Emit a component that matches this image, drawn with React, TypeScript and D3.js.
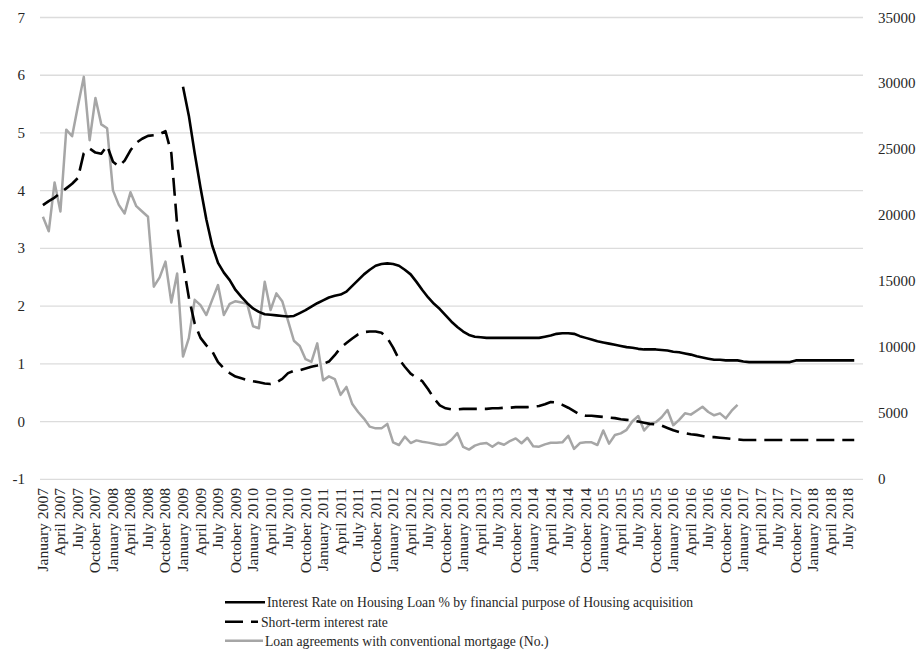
import React from "react";
import * as d3 from "d3";

// ---- Data ----
const startMonth = new Date(2007, 0, 1);
const monthCount = 141; // Jan 2007 .. Sep 2018
const categories: string[] = d3
  .timeMonths(startMonth, new Date(2007, monthCount, 1))
  .map((d) => d3.timeFormat("%B %Y")(d));

const leftTicks = [-1, 0, 1, 2, 3, 4, 5, 6, 7];
const rightTicks = [0, 5000, 10000, 15000, 20000, 25000, 30000, 35000];

// Interest Rate on Housing Loan %, starts January 2009 (index 24)
const housingRateStart = 24;
const housingRate = [
  5.8, 5.3, 4.65, 4.05, 3.5, 3.05, 2.75, 2.58, 2.45, 2.28, 2.16, 2.05, 1.96, 1.9, 1.86, 1.85,
  1.84, 1.83, 1.82, 1.83, 1.88, 1.93, 1.99, 2.05, 2.1, 2.15, 2.18, 2.2, 2.25, 2.35, 2.45, 2.55,
  2.63, 2.7, 2.73, 2.74, 2.73, 2.7, 2.63, 2.55, 2.42, 2.28, 2.15, 2.04, 1.95, 1.84, 1.73, 1.64,
  1.56, 1.5, 1.47, 1.46, 1.45, 1.45, 1.45, 1.45, 1.45, 1.45, 1.45, 1.45, 1.45, 1.45, 1.47, 1.49,
  1.52, 1.53, 1.53, 1.52, 1.48, 1.45, 1.42, 1.39, 1.37, 1.35, 1.33, 1.31, 1.29, 1.28, 1.26, 1.25,
  1.25, 1.25, 1.24, 1.23, 1.21, 1.2, 1.18, 1.16, 1.13, 1.11, 1.09, 1.07, 1.07, 1.06, 1.06, 1.06,
  1.04, 1.03, 1.03, 1.03, 1.03, 1.03, 1.03, 1.03, 1.03, 1.06, 1.06, 1.06, 1.06, 1.06, 1.06, 1.06,
  1.06, 1.06, 1.06, 1.06,
];

// Short-term interest rate, starts January 2007
const shortRateStart = 0;
const shortRate = [
  3.75, 3.82, 3.88, 3.96, 4.04, 4.12, 4.22, 4.65, 4.73, 4.66, 4.64, 4.78, 4.5, 4.42, 4.52, 4.7,
  4.83, 4.9, 4.95, 4.96, 4.98, 5.03, 4.65, 3.4, 2.75, 2.15, 1.7, 1.45, 1.32, 1.22, 1.03, 0.92,
  0.84, 0.78, 0.75, 0.72, 0.7, 0.68, 0.66, 0.65, 0.68, 0.74, 0.84, 0.88, 0.89, 0.92, 0.95, 0.97,
  1.0, 1.04, 1.15, 1.28, 1.36, 1.44, 1.51, 1.55, 1.56, 1.56, 1.54, 1.45, 1.28, 1.08, 0.95, 0.83,
  0.76, 0.7, 0.56, 0.4, 0.28, 0.23, 0.21, 0.21, 0.22, 0.22, 0.22, 0.22, 0.22, 0.23, 0.23, 0.24,
  0.24, 0.25, 0.25, 0.25, 0.26, 0.27, 0.3, 0.34, 0.33, 0.29, 0.24, 0.18, 0.12, 0.1, 0.1, 0.09,
  0.08, 0.07, 0.06, 0.04, 0.03, 0.02, 0.0, -0.02, -0.04, -0.05, -0.07, -0.11, -0.15, -0.18, -0.2, -0.22,
  -0.23, -0.25, -0.27, -0.27, -0.28, -0.29, -0.3, -0.31, -0.32, -0.32, -0.32, -0.32, -0.32, -0.32, -0.32, -0.32,
  -0.32, -0.32, -0.32, -0.32, -0.32, -0.32, -0.32, -0.32, -0.32, -0.32, -0.32, -0.32,
];

// Loan agreements with conventional mortgage (No.), starts January 2007 (right axis)
const loansStart = 0;
const loans = [
  19900, 18800, 22500, 20300, 26500, 26000, 28300, 30500, 25700, 28900, 26900, 26600, 21900, 20800, 20150, 21750,
  20700, 20300, 19900, 14600, 15300, 16500, 13400, 15600, 9300, 10700, 13600, 13200, 12450, 13600, 14720, 12450,
  13300, 13500, 13400, 13300, 11600, 11450, 14970, 12830, 14090, 13500, 12000, 10500, 10100, 9100, 8900, 10300,
  7500, 7800, 7600, 6400, 7000, 5700, 5100, 4600, 3990, 3860, 3860, 4200, 2800, 2600, 3230, 2750,
  2950, 2850, 2780, 2700, 2600, 2650, 3000, 3500, 2450, 2250, 2550, 2700, 2750, 2470, 2770, 2620,
  2900, 3100, 2730, 3150, 2500, 2470, 2650, 2770, 2770, 2800, 3300, 2300, 2750, 2800, 2800, 2600,
  3700, 2700, 3360, 3480, 3750, 4400, 4800, 3700, 4200, 4330, 4700, 5250, 4100, 4500, 5000, 4900,
  5200, 5500, 5100, 4850, 5000, 4620, 5200, 5650,
];

const legendLabels = [
  "Interest Rate on Housing Loan % by financial purpose of Housing acquisition",
  "Short-term interest rate",
  "Loan agreements with conventional mortgage (No.)",
];

// ---- Layout ----
const W = 920;
const H = 661;
const plotLeft = 40;
const plotRight = 863;
const plotTop = 17.5;
const plotBottom = 479.3;
const FONT = "'Liberation Serif', 'Times New Roman', serif";
const TEXT = "#262626";

export default function App() {
  const x = d3
    .scaleBand<number>()
    .domain(d3.range(categories.length))
    .range([plotLeft, plotRight]);
  const cx = (i: number) => (x(i) as number) + x.bandwidth() / 2;
  const yL = d3.scaleLinear().domain([-1, 7]).range([plotBottom, plotTop]);
  const yR = d3.scaleLinear().domain([0, 35000]).range([plotBottom, plotTop]);

  const mkPts = (arr: number[], start: number) => arr.map((v, k) => [start + k, v] as [number, number]);
  const lineL = d3
    .line<[number, number]>()
    .x((d) => cx(d[0]))
    .y((d) => yL(d[1]));
  const lineR = d3
    .line<[number, number]>()
    .x((d) => cx(d[0]))
    .y((d) => yR(d[1]));

  const labelIdx = d3.range(0, categories.length, 3);
  const legendRows = [
    { y: 602.3, lineEnd: 265, textX: 267 },
    { y: 621.7, lineEnd: 258, textX: 261 },
    { y: 640.7, lineEnd: 263, textX: 265 },
  ];

  return (
    <svg
      width={W}
      height={H}
      viewBox={`0 0 ${W} ${H}`}
      style={{ position: "absolute", left: 0, top: 0, background: "#fff" }}
      fontFamily={FONT}
    >
      <rect x={0} y={0} width={W} height={H} fill="#fff" />
      {/* gridlines */}
      {leftTicks.map((t) => (
        <line key={"g" + t} x1={plotLeft} x2={plotRight} y1={yL(t)} y2={yL(t)} stroke="#dcdcdc" strokeWidth={1.3} />
      ))}
      {/* left tick labels */}
      {leftTicks.map((t) => (
        <text key={"l" + t} x={25} y={yL(t) + 5} textAnchor="end" fontSize={15} fill={TEXT}>
          {t}
        </text>
      ))}
      {/* right tick labels */}
      {rightTicks.map((t) => (
        <text key={"r" + t} x={878} y={yR(t) + 5} textAnchor="start" fontSize={15} fill={TEXT}>
          {t}
        </text>
      ))}
      {/* x labels */}
      {labelIdx.map((i) => (
        <text
          key={"x" + i}
          transform={`translate(${cx(i) + 5},488) scale(1,1.04) rotate(-90)`}
          textAnchor="end"
          fontSize={15}
          fill={TEXT}
        >
          {categories[i]}
        </text>
      ))}
      {/* series */}
      <path
        d={lineR(mkPts(loans, loansStart)) || ""}
        fill="none"
        stroke="#a6a6a6"
        strokeWidth={2.5}
        strokeLinejoin="round"
      />
      <path
        d={lineL(mkPts(shortRate, shortRateStart)) || ""}
        fill="none"
        stroke="#000"
        strokeWidth={2.6}
        strokeDasharray="18,8"
        strokeLinejoin="round"
      />
      <path
        d={lineL(mkPts(housingRate, housingRateStart)) || ""}
        fill="none"
        stroke="#000"
        strokeWidth={2.6}
        strokeLinejoin="round"
      />
      {/* legend */}
      {legendRows.map((r, k) => (
        <g key={"lg" + k}>
          <line
            x1={225}
            x2={r.lineEnd}
            y1={r.y}
            y2={r.y}
            stroke={k === 2 ? "#a6a6a6" : "#000"}
            strokeWidth={2.6}
            strokeDasharray={k === 1 ? "18,8" : undefined}
          />
          <text
            transform={`translate(${r.textX},${r.y + 5}) scale(1,1.12)`}
            fontSize={13.7}
            fill={TEXT}
          >
            {legendLabels[k]}
          </text>
        </g>
      ))}
    </svg>
  );
}
